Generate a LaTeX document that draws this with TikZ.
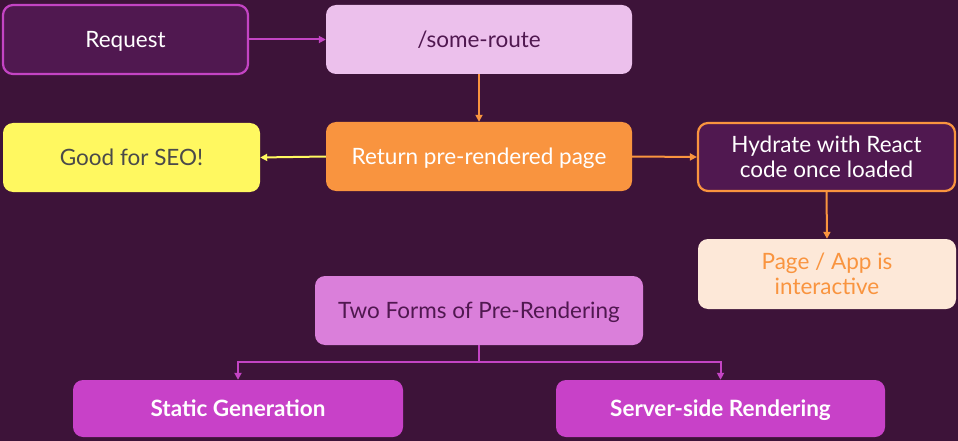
\documentclass[tikz,border=0pt]{standalone}
\usepackage{fontspec}
\setmainfont{Lato}
\usetikzlibrary{arrows.meta}
\definecolor{bg}{HTML}{3D1339}
\definecolor{dpurple}{HTML}{501850}
\definecolor{magenta}{HTML}{C444C4}
\definecolor{lilac}{HTML}{ECC0EC}
\definecolor{orange}{HTML}{F9943F}
\definecolor{yellowbox}{HTML}{FFF860}
\definecolor{peach}{HTML}{FDE8D8}
\definecolor{pink}{HTML}{DA7FDA}
\definecolor{mag2}{HTML}{C841C8}
\definecolor{darktext}{HTML}{4A4A4A}
\begin{document}
\begin{tikzpicture}[x=1pt,y=-1pt,
  box/.style={rounded corners=10pt,font=\fontsize{22.5}{25}\selectfont,align=center,inner sep=0pt,text depth=0pt},
  conn/.style={line width=2pt,-{Triangle[length=7pt,width=7pt]}}]
\fill[bg] (0,0) rectangle (958,441);
\useasboundingbox (0,0) rectangle (958,441);
% boxes
\node[box,draw=magenta,line width=2.2pt,fill=dpurple,text=white,minimum width=245pt,minimum height=69pt] (req) at (125.5,39.5) {Request};
\node[box,fill=lilac,text=dpurple,minimum width=306pt,minimum height=69pt] (route) at (479,39.5) {/some-route};
\node[box,fill=orange,text=white,minimum width=306pt,minimum height=69pt] (ret) at (479,156.5) {Return pre-rendered page};
\node[box,fill=yellowbox,text=darktext,minimum width=257pt,minimum height=69pt] (seo) at (131.5,157.5) {Good for SEO!};
\node[box,draw=orange,line width=2.2pt,fill=dpurple,text=white,minimum width=257pt,minimum height=68pt] (hyd) at (826.5,157) {Hydrate with React\\code once loaded};
\node[box,fill=peach,text=orange,minimum width=258pt,minimum height=70pt] (page) at (827,274) {Page / App is\\interactive};
\node[box,fill=pink,text=dpurple,minimum width=328pt,minimum height=69pt] (two) at (479,310.5) {Two Forms of Pre-Rendering};
\node[box,fill=mag2,text=white,font=\fontsize{22.5}{25}\selectfont\bfseries,minimum width=330pt,minimum height=57pt] (sg) at (238,408.5) {Static Generation};
\node[box,fill=mag2,text=white,font=\fontsize{22.5}{25}\selectfont\bfseries,minimum width=329pt,minimum height=57pt] (ssr) at (720.5,408.5) {Server-side Rendering};
% connectors
\draw[conn,magenta] (req.east) -- (route.west);
\draw[conn,orange] (route.south) -- (ret.north);
\draw[conn,yellowbox] (ret.west) -- (seo.east);
\draw[conn,orange] (ret.east) -- (hyd.west);
\draw[conn,orange] (hyd.south) -- (page.north);
\coordinate (split) at (479,362);
\draw[line width=2pt,magenta] (two.south) -- (split);
\draw[conn,magenta] (split) -| (sg.north);
\draw[conn,magenta] (split) -| (ssr.north);
\end{tikzpicture}
\end{document}
